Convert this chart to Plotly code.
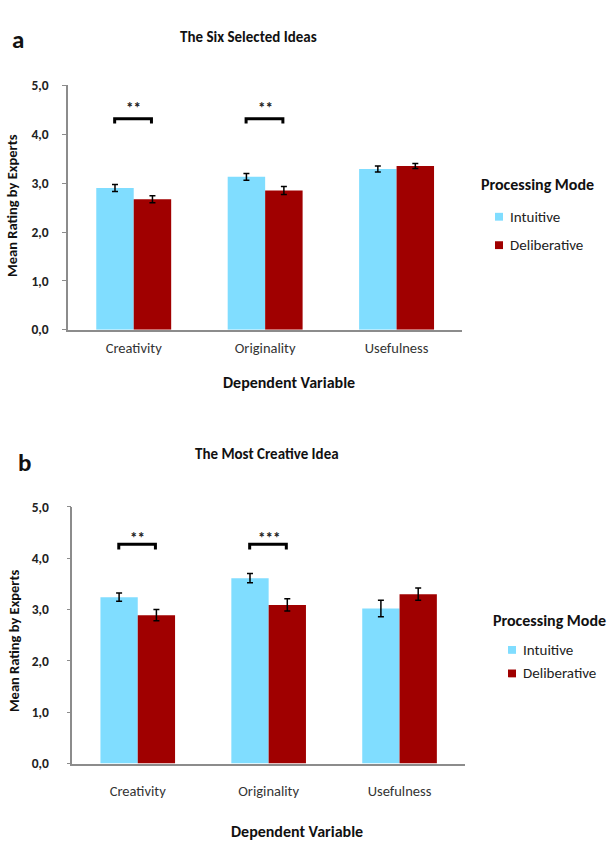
import plotly.graph_objects as go

# ---- data ----
categories = ["Creativity", "Originality", "Usefulness"]
modes = ["Intuitive", "Deliberative"]

a_intuitive = [2.90, 3.13, 3.29]
a_intuitive_err = [0.07, 0.07, 0.06]
a_deliberative = [2.67, 2.85, 3.35]
a_deliberative_err = [0.07, 0.08, 0.05]

b_intuitive = [3.24, 3.61, 3.02]
b_intuitive_err = [0.08, 0.09, 0.16]
b_deliberative = [2.89, 3.09, 3.30]
b_deliberative_err = [0.11, 0.12, 0.12]

a_sig = ["**", "**", ""]
a_sig_level = 4.32
b_sig = ["**", "***", ""]
b_sig_level = 4.27

y_ticks = [0, 1, 2, 3, 4, 5]
y_ticktext = ["0,0", "1,0", "2,0", "3,0", "4,0", "5,0"]

# ---- styling ----
W, H = 616, 851
FONT = "Carlito, Calibri, Lato, sans-serif"
C_INT = "#80DDFF"
C_DEL = "#A00000"
AXIS_C = "#8C8C8C"


def px(x):
    return x / W


def py(y):
    return 1 - y / H


fig = go.Figure()

panels = [
    dict(xa="x", ya="y", vi=a_intuitive, ei=a_intuitive_err, vd=a_deliberative, ed=a_deliberative_err,
         sig=a_sig, lvl=a_sig_level, star_off=0.22),
    dict(xa="x2", ya="y2", vi=b_intuitive, ei=b_intuitive_err, vd=b_deliberative, ed=b_deliberative_err,
         sig=b_sig, lvl=b_sig_level, star_off=0.12),
]

for p in panels:
    for name, vals, errs, col in [(modes[0], p["vi"], p["ei"], C_INT), (modes[1], p["vd"], p["ed"], C_DEL)]:
        fig.add_trace(go.Bar(
            x=categories, y=vals, name=name, marker=dict(color=col, line=dict(width=0)),
            error_y=dict(type="data", array=errs, visible=True, color="black", thickness=1.5, width=3),
            xaxis=p["xa"], yaxis=p["ya"], showlegend=False,
        ))
    for i, s in enumerate(p["sig"]):
        if not s:
            continue
        lv = p["lvl"]
        fig.add_shape(type="path",
                      path=f"M {i-0.145},{lv-0.1} L {i-0.145},{lv} L {i+0.135},{lv} L {i+0.135},{lv-0.1}",
                      xref=p["xa"], yref=p["ya"], line=dict(color="black", width=3))
        fig.add_annotation(x=i, y=lv + p["star_off"], xref=p["xa"], yref=p["ya"], text=s,
                           showarrow=False, font=dict(size=15, color="#222", family=FONT, weight="bold"),
                           yanchor="middle")

axis_common = dict(showgrid=False, zeroline=False, showline=True, linecolor=AXIS_C, linewidth=1.5)
ytick_common = dict(range=[0, 5], tickvals=y_ticks, ticktext=y_ticktext,
                    ticks="outside", ticklen=4, tickcolor=AXIS_C, tickwidth=1,
                    tickfont=dict(size=13.5, color="#222", weight="bold"))

fig.update_layout(
    width=W, height=H, margin=dict(l=0, r=0, t=0, b=0),
    plot_bgcolor="white", paper_bgcolor="white",
    barmode="group", bargap=0.43, bargroupgap=0,
    font=dict(family=FONT, color="#222"),
    xaxis=dict(domain=[px(68), px(462.3)], anchor="y", range=[-0.5, 2.5], ticks="",
               ticklabelstandoff=4, tickfont=dict(size=14.5, color="#333"), **axis_common),
    yaxis=dict(domain=[py(328.3), py(79)], anchor="x", ticklabelstandoff=11, **ytick_common, **axis_common),
    xaxis2=dict(domain=[px(72.3), px(465)], anchor="y2", range=[-0.5, 2.5], ticks="",
                ticklabelstandoff=13, tickfont=dict(size=14.5, color="#333"), **axis_common),
    yaxis2=dict(domain=[py(771), py(509)], anchor="x2", ticklabelstandoff=15, **ytick_common, **axis_common),
)


def txt(x, y, text, size, bold=True, xanchor="center", angle=0, color="#111"):
    fig.add_annotation(x=px(x), y=py(y), xref="paper", yref="paper", text=text, showarrow=False,
                       xanchor=xanchor, yanchor="middle", textangle=angle,
                       font=dict(family=FONT, size=size, color=color, weight="bold" if bold else "normal"))


# panel letters and titles
txt(18, 32, "a", 25)
txt(248, 30, "The Six Selected Ideas", 15)
txt(24, 464, "b", 25)
txt(267, 455, "The Most Creative Idea", 15)

# y axis titles
txt(12, 202, "Mean Rating by Experts", 14.5, angle=-90)
txt(14, 646, "Mean Rating by Experts", 14.5, angle=-90)

# x axis titles
txt(289, 382, "Dependent Variable", 16)
txt(297, 840, "Dependent Variable", 16)

# legends
legends = [
    dict(tx=479, ty=180, sx=499, rows=[213, 242], lx=508),
    dict(tx=491, ty=625, sx=512, rows=[655, 679], lx=521),
]
for lg in legends:
    txt(lg["tx"], lg["ty"], "Processing Mode", 16, xanchor="left")
    for yy, name, col in zip(lg["rows"], modes, [C_INT, C_DEL]):
        fig.add_shape(type="rect", xref="paper", yref="paper",
                      x0=px(lg["sx"] - 4), x1=px(lg["sx"] + 4), y0=py(yy + 4), y1=py(yy - 4),
                      fillcolor=col, line=dict(width=0))
        txt(lg["lx"], yy, name, 15, bold=False, xanchor="left", color="#222")

fig.write_html("out.html")
